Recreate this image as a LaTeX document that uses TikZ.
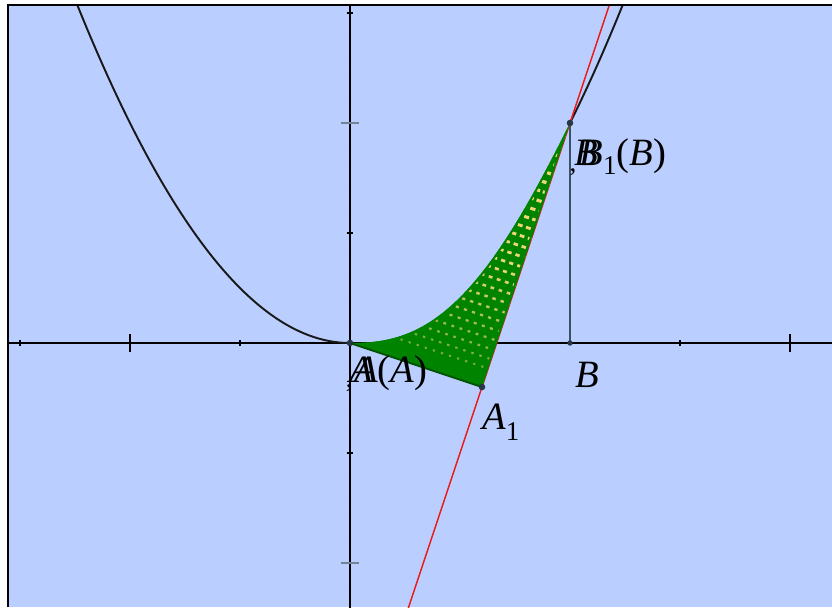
\documentclass[tikz,border=0pt]{standalone}
\usepackage{fontspec}
\setmainfont{Liberation Serif}
\definecolor{bg}{RGB}{186,207,255}
\definecolor{gfill}{RGB}{0,132,0}
\definecolor{gdark}{RGB}{0,85,0}
\definecolor{rowcol}{RGB}{240,212,120}
\definecolor{ptcol}{RGB}{40,55,70}
\definecolor{majgray}{RGB}{120,130,150}
\definecolor{mingray}{RGB}{160,175,205}
\definecolor{redline}{RGB}{235,30,30}
\definecolor{vline}{RGB}{60,80,100}
\begin{document}
\begin{tikzpicture}[x=1cm,y=1cm,
  lab/.style={inner sep=0pt, anchor=base west, font=\fontsize{10}{12}\selectfont},
  ptdot/.style={fill=ptcol, circle, inner sep=0pt, minimum size=1.7pt},
  axisline/.style={black, line width=0.5pt},
  curve/.style={black!90, line width=0.5pt},
  smalltick/.style={black, line width=0.45pt},
  bigtickx/.style={black, line width=0.45pt},
  bigticky/.style={majgray, line width=0.6pt},
  minortick/.style={mingray, line width=0.25pt}]
\useasboundingbox (-3.1818,-2.4) rectangle (4.3818,3.1182);
\fill[white] (-3.1818,-2.4) rectangle (4.3818,3.1182);
\fill[bg] (-3.109,-2.4) rectangle (4.3818,3.0727);
\begin{scope}
\clip (-3.109,-2.4) rectangle (4.3818,3.0727);
% minor ticks
\foreach \i in {-16,...,22} {\draw[minortick] (\i/5,-0.01) -- (\i/5,0.01);}
\foreach \i in {-12,...,16} {\draw[minortick] (-0.01,\i/5) -- (0.01,\i/5);}
% axes
\coordinate (xl) at (-3.2,0); \coordinate (xr) at (4.5,0);
\coordinate (yb) at (0,-2.5); \coordinate (yt) at (0,3.2);
\draw[axisline] (xl) -- (xr);
\draw[axisline] (yb) -- (yt);
% ticks
\foreach \t in {-3,-1,3} {\draw[smalltick] (\t,-0.03) -- (\t,0.03);}
\foreach \t in {-2,4} {\draw[bigtickx] (\t,-0.08) -- (\t,0.08);}
\foreach \t in {-1,1,3} {\draw[smalltick] (-0.03,\t) -- (0.03,\t);}
\foreach \t in {-2,2} {\draw[bigticky] (-0.08,\t) -- (0.08,\t);}
% parabola
\draw[curve] plot[domain=-2.6:0, samples=80, smooth] (\x,{0.5*\x*\x});
\draw[curve] plot[domain=2:2.6, samples=30, smooth] (\x,{0.5*\x*\x});
% points
\coordinate (A) at (0,0);
\coordinate (A1) at (1.2,-0.4);
\coordinate (B1) at (2,2);
\coordinate (Bx) at (2,0);
% vertical line
\draw[vline, line width=0.3pt] (B1) -- (Bx);
% red line
\coordinate (rb) at ({(-2.5+4)/3},-2.5);
\coordinate (rt) at ({(3.2+4)/3},3.2);
\draw[redline, line width=0.4pt] (rb) -- (rt);
% green region
\def\regionpath{(A) plot[domain=0:2, samples=70, smooth] (\x,{0.5*\x*\x-0.085*\x*\x*(2-\x)*(2-\x)}) -- (A1) -- cycle}
\fill[gfill] \regionpath;
\begin{scope}
\clip \regionpath;
\foreach \s [count=\k] in {0.07,0.105,...,0.99} {
  \pgfmathsetmacro{\on}{0.5+1.3*\s}
  \pgfmathsetmacro{\off}{2.2-\on}
  \pgfmathsetmacro{\lw}{0.5+0.45*\s}
  \pgfmathsetmacro{\op}{min(1,0.4+1.4*\s)}
  \pgfmathsetmacro{\ph}{mod(\k*0.9,2.2)}
  \draw[rowcol, opacity=\op, line width=\lw pt, dash pattern=on \on pt off \off pt, dash phase=\ph pt]
    ({1.2+0.8*\s},{-0.4+2.4*\s}) -- ++(-3.6,1.2);
}
\draw[gfill, line width=1.0pt, line join=round] \regionpath;
\end{scope}
\draw[gdark, line width=0.5pt] (A) -- (A1);
\end{scope}
% frame
\coordinate (fbl) at (-3.109,-2.4);
\coordinate (ftl) at (-3.109,3.0727);
\coordinate (ftr) at (4.3818,3.0727);
\draw[black, line width=0.6pt] (fbl) -- (ftl) -- (ftr);
% point markers
\node[ptdot] (pA) at (A) {};
\node[ptdot] (pA1) at (A1) {};
\node[ptdot] (pB1) at (B1) {};
\node[ptdot, minimum size=1.4pt] (pBx) at (Bx) {};
% labels
\node[lab] (lA0) at (-0.01,-0.355) {\textit{A}};
\node[lab] (lA) at (0.03,-0.355) {\textit{A}(\textit{A})};
\node[lab, font=\fontsize{7}{8}\selectfont] (cA) at (-0.045,-0.40) {,};
\node[lab] (lA1) at (1.195,-0.79) {\textit{A}\raisebox{-2.7pt}{\fontsize{7}{8}\selectfont 1}};
\node[lab] (lBx) at (2.04,-0.40) {\textit{B}};
\node[lab] (lB0) at (2.035,1.618) {\textit{B}};
\node[lab] (lB1) at (2.08,1.618) {\textit{B}\raisebox{-2.4pt}{\fontsize{7}{8}\selectfont 1}(\textit{B})};
\node[lab, font=\fontsize{7}{8}\selectfont] (cB) at (1.99,1.555) {,};
\end{tikzpicture}
\end{document}
